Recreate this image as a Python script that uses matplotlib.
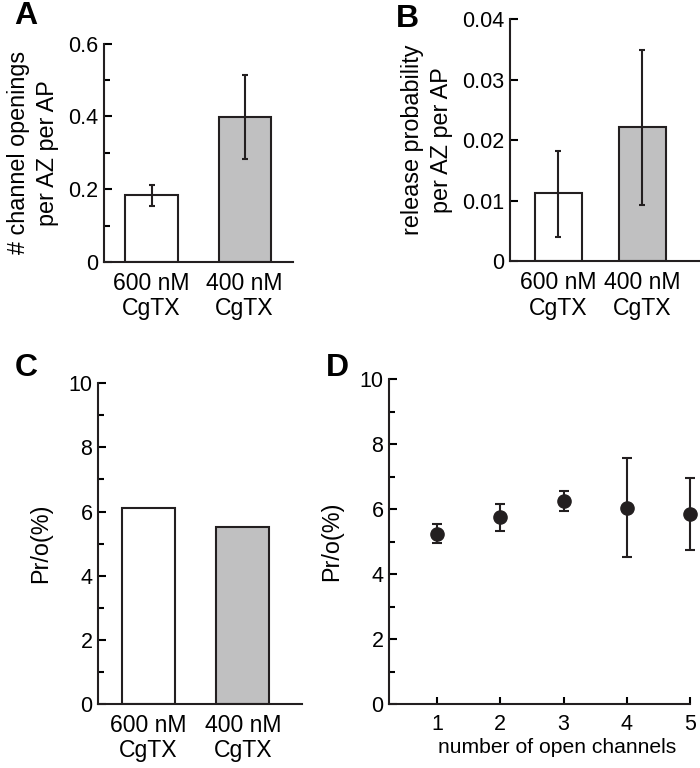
import matplotlib
matplotlib.use('Agg')
import matplotlib.pyplot as plt
from matplotlib.ticker import MultipleLocator

plt.rcParams['font.family'] = ['Liberation Sans', 'DejaVu Sans']
plt.rcParams['font.size'] = 15

# Data
conditions = ['600 nM\nCgTX', '400 nM\nCgTX']
openings = [0.185, 0.398]
openings_lo = [0.155, 0.283]
openings_hi = [0.211, 0.513]
release = [0.0112, 0.0222]
release_lo = [0.0040, 0.0093]
release_hi = [0.0182, 0.0349]
pr_bar = [6.12, 5.52]
n_open = [1, 2, 3, 4, 5]
pr_open = [5.23, 5.75, 6.24, 6.02, 5.86]
pr_open_lo = [4.95, 5.33, 5.94, 4.53, 4.73]
pr_open_hi = [5.55, 6.14, 6.55, 7.57, 6.96]

bar_colors = ['white', '#c0c0c1']
dark = '#231f20'
lw = 1.5
label_size = 16.8


def style(ax):
    ax.spines['top'].set_visible(False)
    ax.spines['right'].set_visible(False)
    for s in ['left', 'bottom']:
        ax.spines[s].set_linewidth(lw)
        ax.spines[s].set_color(dark)
    ax.tick_params(axis='y', which='major', direction='in', length=6, width=lw, pad=4,
                   labelsize=15.5)
    ax.tick_params(axis='y', which='minor', direction='in', length=4, width=lw)


def bars(ax, vals, lo=None, hi=None):
    pos = [1, 2]
    ax.bar(pos, vals, width=0.56, color=bar_colors, edgecolor=dark, linewidth=lw)
    if lo is not None:
        err = [[v - l for v, l in zip(vals, lo)], [h - v for v, h in zip(vals, hi)]]
        ax.errorbar(pos, vals, yerr=err, fmt='none', ecolor=dark,
                    elinewidth=lw, capsize=2.5, capthick=lw)
    ax.set_xticks(pos)
    ax.set_xticklabels(conditions, linespacing=1.15, fontsize=16.6)
    ax.tick_params(axis='x', length=0, pad=7)


fig = plt.figure(figsize=(7, 7.68), dpi=100)

# A
axA = fig.add_axes([0.1486, 0.659, 0.270, 0.284])
style(axA)
bars(axA, openings, openings_lo, openings_hi)
axA.set_xlim(0.49, 2.52)
axA.set_ylim(0, 0.6)
axA.set_yticks([0, 0.2, 0.4, 0.6])
axA.set_yticklabels(['0', '0.2', '0.4', '0.6'])
axA.yaxis.set_minor_locator(MultipleLocator(0.1))
axA.set_ylabel('# channel openings\nper AZ per AP', linespacing=1.3, labelpad=7,
               fontsize=label_size)

# B
axB = fig.add_axes([0.729, 0.660, 0.27, 0.315])
style(axB)
bars(axB, release, release_lo, release_hi)
axB.set_xlim(0.43, 2.68)
axB.set_ylim(0, 0.04)
axB.set_yticks([0, 0.01, 0.02, 0.03, 0.04])
axB.set_yticklabels(['0', '0.01', '0.02', '0.03', '0.04'])
axB.set_ylabel('release probability\nper AZ per AP', linespacing=1.3, labelpad=7,
               fontsize=label_size)

# C
axC = fig.add_axes([0.14, 0.0833, 0.291, 0.4177])
style(axC)
bars(axC, pr_bar)
axC.set_xlim(0.47, 2.62)
axC.set_ylim(0, 10)
axC.set_yticks(range(0, 11, 2))
axC.yaxis.set_minor_locator(MultipleLocator(1))
axC.set_ylabel('Pr/o(%)', labelpad=12, fontsize=label_size)

# D
axD = fig.add_axes([0.5557, 0.0833, 0.430, 0.4232])
style(axD)
err = [[v - l for v, l in zip(pr_open, pr_open_lo)], [h - v for v, h in zip(pr_open, pr_open_hi)]]
axD.errorbar(n_open, pr_open, yerr=err, fmt='o', color=dark, markersize=9.5,
             elinewidth=lw, capsize=3.5, capthick=lw, clip_on=False)
axD.set_xlim(0.24, 5.0)
axD.set_ylim(0, 10)
axD.set_xticks(n_open)
axD.set_yticks(range(0, 11, 2))
axD.yaxis.set_minor_locator(MultipleLocator(1))
axD.tick_params(axis='x', direction='in', length=5, width=lw, pad=7, labelsize=15.5)
axD.set_xlabel('number of open channels', fontsize=15.2)
axD.xaxis.set_label_coords(0.56, -0.105)
axD.set_ylabel('Pr/o(%)', labelpad=12, fontsize=label_size)

# panel letters
for lbl, x, y in [('A', 26, 16), ('B', 407, 19), ('C', 26, 368), ('D', 337, 368)]:
    fig.text(x / 700, 1 - y / 768, lbl, fontsize=23, fontweight='bold',
             ha='center', va='center')

fig.savefig('out.png', dpi=100)
